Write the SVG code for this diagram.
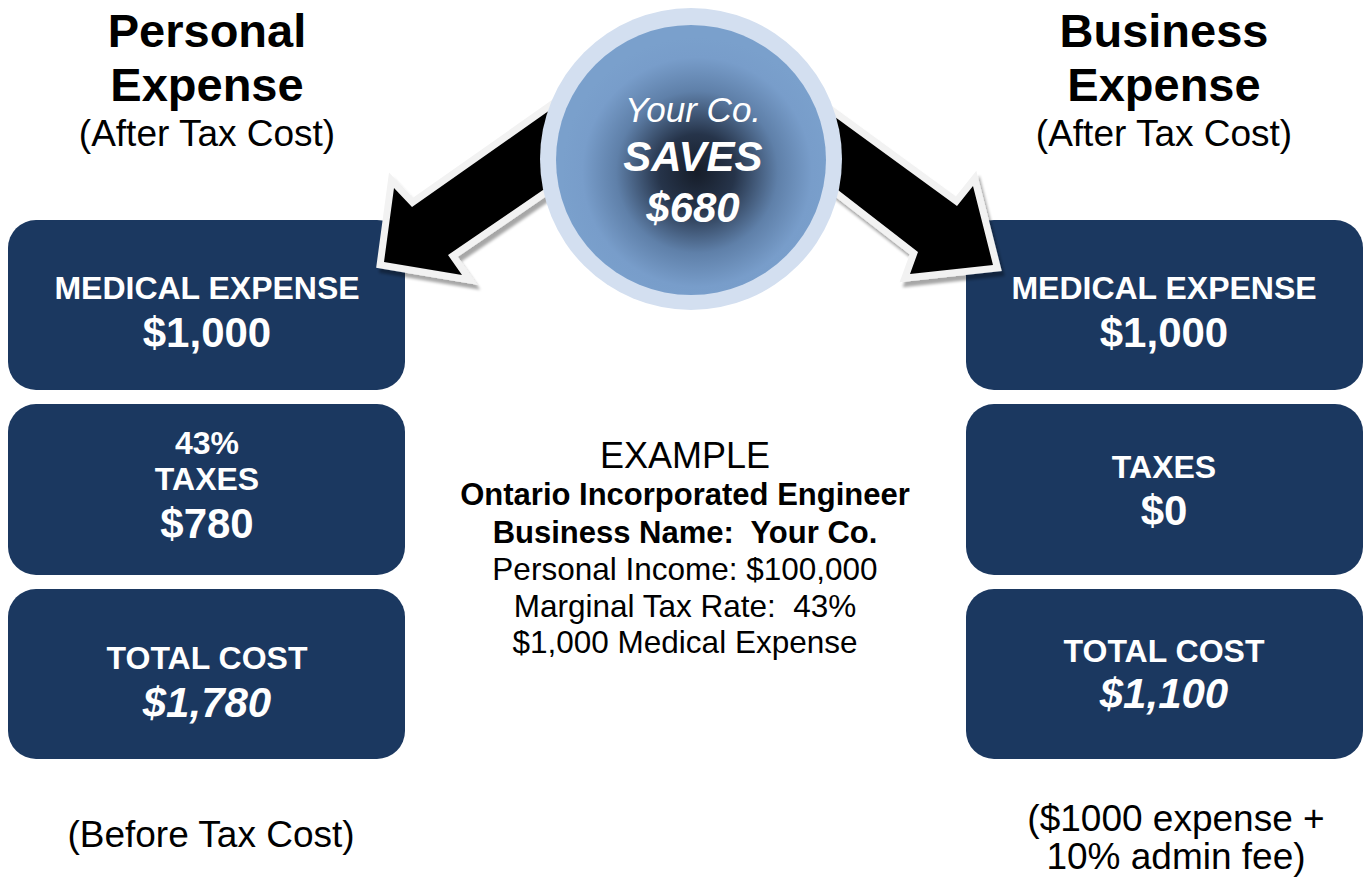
<svg xmlns="http://www.w3.org/2000/svg" width="1364" height="878" viewBox="0 0 1364 878">
  <defs>
    <style>
      .box { fill: #1b3860; }
      .lbl { font-family: "Liberation Sans", Arial, sans-serif; fill: #ffffff; font-weight: bold; text-anchor: middle; }
      .lbl-s { font-size: 32px; }
      .lbl-l { font-size: 42px; }
      .it { font-style: italic; }
      .thin { font-weight: normal; }
      .hdr { font-family: "Liberation Sans", Arial, sans-serif; fill: #000000; text-anchor: middle; }
      .arrow { fill: #000000; stroke: #f2f2f2; stroke-width: 14; stroke-linejoin: miter; stroke-miterlimit: 10; paint-order: stroke fill; }
    </style>
    <radialGradient id="coreGlow" cx="697" cy="172" r="135" gradientUnits="userSpaceOnUse">
      <stop offset="0" stop-color="#161d29"/>
      <stop offset="0.28" stop-color="#26344a"/>
      <stop offset="0.6" stop-color="#5f80a9"/>
      <stop offset="0.85" stop-color="#789dca"/>
      <stop offset="1" stop-color="#7aa0cc"/>
    </radialGradient>
    <filter id="dropShadow" x="-20%" y="-20%" width="140%" height="140%">
      <feGaussianBlur in="SourceAlpha" stdDeviation="1.5"/>
      <feOffset dx="3" dy="5" result="off"/>
      <feComponentTransfer><feFuncA type="linear" slope="0.35"/></feComponentTransfer>
      <feMerge><feMergeNode/><feMergeNode in="SourceGraphic"/></feMerge>
    </filter>
  </defs>

  <rect width="1364" height="878" fill="#ffffff"/>

  <!-- Column headings -->
  <g id="heading-personal" class="hdr">
    <text x="207" y="47" font-size="47" font-weight="bold">Personal</text>
    <text x="207" y="101" font-size="47" font-weight="bold">Expense</text>
    <text x="207" y="146" font-size="37">(After Tax Cost)</text>
  </g>
  <g id="heading-business" class="hdr">
    <text x="1164" y="47" font-size="47" font-weight="bold">Business</text>
    <text x="1164" y="101" font-size="47" font-weight="bold">Expense</text>
    <text x="1164" y="146" font-size="37">(After Tax Cost)</text>
  </g>

  <!-- Personal column -->
  <g id="personal-medical">
    <rect class="box" x="8" y="220" width="397" height="170" rx="28"/>
    <text class="lbl lbl-s" x="207" y="299">MEDICAL EXPENSE</text>
    <text class="lbl lbl-l" x="207" y="347">$1,000</text>
  </g>
  <g id="personal-taxes">
    <rect class="box" x="8" y="404" width="397" height="171" rx="28"/>
    <text class="lbl lbl-s" x="207" y="454">43%</text>
    <text class="lbl lbl-s" x="207" y="490">TAXES</text>
    <text class="lbl lbl-l" x="207" y="538">$780</text>
  </g>
  <g id="personal-total">
    <rect class="box" x="8" y="589" width="397" height="170" rx="28"/>
    <text class="lbl lbl-s" x="207" y="669">TOTAL COST</text>
    <text class="lbl lbl-l it" x="207" y="717">$1,780</text>
  </g>

  <!-- Business column -->
  <g id="business-medical">
    <rect class="box" x="966" y="220" width="397" height="170" rx="28"/>
    <text class="lbl lbl-s" x="1164" y="299">MEDICAL EXPENSE</text>
    <text class="lbl lbl-l" x="1164" y="347">$1,000</text>
  </g>
  <g id="business-taxes">
    <rect class="box" x="966" y="404" width="397" height="171" rx="28"/>
    <text class="lbl lbl-s" x="1164" y="478">TAXES</text>
    <text class="lbl lbl-l" x="1164" y="525">$0</text>
  </g>
  <g id="business-total">
    <rect class="box" x="966" y="589" width="397" height="170" rx="28"/>
    <text class="lbl lbl-s" x="1164" y="662">TOTAL COST</text>
    <text class="lbl lbl-l it" x="1164" y="708">$1,100</text>
  </g>

  <!-- Connectors: block arrows from the savings badge to each column -->
  <g id="connectors" filter="url(#dropShadow)">
    <polygon class="arrow" points="622,58 550,110 412,207 394,188 384,262 462,275 448,255 543,190 640,125"/>
    <polygon class="arrow" points="760,62 835,117 957,206 973,186 993,265 910,274 918,252 838,190 740,114"/>
  </g>

  <!-- Savings badge -->
  <g id="savings-badge">
    <circle cx="691" cy="159" r="151" fill="#d3dff0"/>
    <circle cx="691" cy="160" r="135" fill="url(#coreGlow)"/>
    <text class="lbl it thin" x="693" y="122" font-size="35">Your Co.</text>
    <text class="lbl it" x="693" y="171" font-size="42">SAVES</text>
    <text class="lbl it" x="693" y="222" font-size="42">$680</text>
  </g>

  <!-- Scenario details -->
  <g id="example" class="hdr">
    <text x="685" y="468" font-size="36">EXAMPLE</text>
    <text x="685" y="505" font-size="31" font-weight="bold">Ontario Incorporated Engineer</text>
    <text x="685" y="543" font-size="31" font-weight="bold" xml:space="preserve">Business Name:  Your Co.</text>
    <text x="685" y="580" font-size="31.5">Personal Income: $100,000</text>
    <text x="685" y="617" font-size="31.5" xml:space="preserve">Marginal Tax Rate:  43%</text>
    <text x="685" y="653" font-size="31.5">$1,000 Medical Expense</text>
  </g>

  <!-- Footnotes -->
  <g id="note-personal" class="hdr">
    <text x="211" y="847" font-size="37">(Before Tax Cost)</text>
  </g>
  <g id="note-business" class="hdr">
    <text x="1176" y="831" font-size="37">($1000 expense +</text>
    <text x="1176" y="869" font-size="37">10% admin fee)</text>
  </g>
</svg>
